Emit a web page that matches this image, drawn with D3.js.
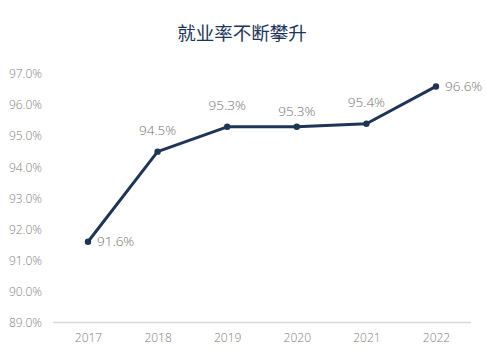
<!DOCTYPE html>
<html><head><meta charset="utf-8">
<script src="https://cdn.jsdelivr.net/npm/d3@7"></script>
<style>
html,body{margin:0;padding:0;background:#fff;}
svg{display:block;}
</style></head>
<body>
<svg id="c" width="486" height="357"></svg>
<script>
const title = "就业率不断攀升";
const years = ["2017","2018","2019","2020","2021","2022"];
const rates = [91.6, 94.5, 95.3, 95.3, 95.4, 96.6];
const yTicks = [89, 90, 91, 92, 93, 94, 95, 96, 97];

const svg = d3.select("#c");
const font = "'Open Sans', 'Noto Sans', sans-serif";
const x = d3.scalePoint().domain(years).range([88, 436]);
const y = d3.scaleLinear().domain([89, 97]).range([322.5, 74]);

svg.append("text").attr("x", 242).attr("y", 35).attr("text-anchor","middle")
  .attr("dominant-baseline","middle")
  .attr("font-family","'Noto Sans CJK SC', sans-serif").attr("font-size",18.5)
  .attr("font-weight",400)
  .attr("fill","#1d3558").text(title);

// y axis labels
const ya = svg.append("g").attr("transform","translate(42,0)")
  .call(d3.axisLeft(y).tickValues(yTicks).tickSize(0).tickPadding(0).tickFormat(d => d.toFixed(1)+"%"));
ya.select(".domain").remove();
ya.selectAll("text").attr("font-family",font).attr("font-size",12).attr("font-weight",300).attr("fill","#808080");

// x axis
const xa = svg.append("g").attr("transform","translate(0,322.5)")
  .call(d3.axisBottom(x).tickSize(0).tickPadding(11));
xa.select(".domain").attr("d","M53,0H471").attr("stroke","#d9d9d9").attr("stroke-width",1.5);
xa.selectAll("text").attr("font-family",font).attr("font-size",12).attr("font-weight",300).attr("fill","#808080");

const line = d3.line().x((d,i)=>x(years[i])).y(d=>y(d));
svg.append("path").datum(rates).attr("d", line).attr("fill","none")
  .attr("stroke","#1f3556").attr("stroke-width",3).attr("stroke-linejoin","round");

svg.selectAll("circle.pt").data(rates).join("circle").attr("class","pt")
  .attr("cx",(d,i)=>x(years[i])).attr("cy",d=>y(d)).attr("r",3.2).attr("fill","#1f3556");

// first and last labels sit to the right of the point, others above
const isSide = i => i === 0 || i === rates.length - 1;
svg.selectAll("text.lbl").data(rates).join("text").attr("class","lbl")
  .attr("x",(d,i)=> isSide(i) ? x(years[i])+9 : x(years[i]))
  .attr("y",(d,i)=> isSide(i) ? y(d)+1 : y(d) - (i === 3 ? 14 : 20))
  .attr("text-anchor",(d,i)=> isSide(i) ? "start" : "middle")
  .attr("dominant-baseline","middle")
  .attr("font-family",font).attr("font-size",13.5).attr("font-weight",300).attr("fill","#707070")
  .text(d => d.toFixed(1)+"%");
</script>
</body></html>
